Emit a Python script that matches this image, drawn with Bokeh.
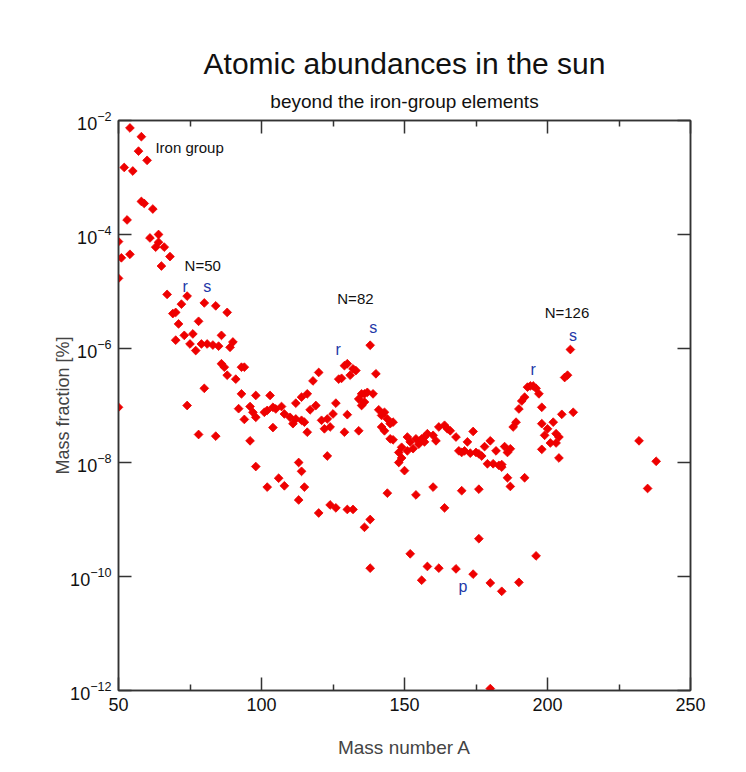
from bokeh.plotting import figure
from bokeh.models import (FixedTicker, LinearAxis, LogAxis, Label, Title, ColumnDataSource,
                          Range1d)
from bokeh.embed import file_html
from bokeh.resources import INLINE

# ---------------- data ----------------
mass_number = [
    54, 58, 57, 60, 52, 55, 58, 59, 62, 53, 50, 51, 54, 50, 61, 64, 64, 63, 66, 68,
    65, 67, 72, 74, 80, 84, 88, 69, 70, 71, 78, 70, 73, 76, 86, 75, 77, 79, 81, 83,
    85, 89, 90, 86, 87, 88, 93, 94, 91, 80, 50, 74, 78, 84, 93, 98, 103, 92, 96, 97,
    94, 98, 101, 102, 104, 105, 107, 108, 110, 111, 112, 104, 96, 98, 113, 102, 106, 108, 114, 115,
    113, 118, 120, 119, 117, 116, 121, 123, 122, 124, 125, 126, 127, 128, 129, 130, 129, 130, 132, 131,
    133, 135, 134, 136, 135, 136, 137, 139, 134, 140, 138, 141, 142, 143, 144, 145, 142, 146, 145, 143,
    149, 152, 154, 157, 158, 112, 114, 116, 114, 115, 123, 120, 124, 126, 130, 132, 138, 136, 138, 144,
    150, 154, 152, 158, 156, 146, 148, 149, 148, 151, 155, 156, 157, 153, 151, 208, 206, 207, 193, 194,
    195, 196, 197, 192, 191, 190, 198, 205, 209, 189, 188, 198, 202, 200, 199, 203, 204, 203, 201, 198,
    204, 162, 164, 165, 166, 168, 174, 160, 161, 169, 170, 171, 173, 175, 176, 172, 180, 178, 182, 185,
    187, 186, 179, 181, 183, 184, 184, 177, 186, 192, 187, 160, 170, 176, 164, 176, 196, 162, 168, 174,
    180, 184, 190, 232, 238, 235, 180,
]
mass_fraction = [
    7.4e-3, 5.2e-3, 2.9e-3, 2.0e-3, 1.5e-3, 1.3e-3, 3.8e-4, 3.5e-4, 2.8e-4, 1.8e-4,
    7.5e-5, 3.9e-5, 4.5e-5, 1.7e-5, 8.7e-5, 1.0e-4, 7.3e-5, 6.0e-5, 6.0e-5, 4.1e-5,
    2.8e-5, 8.9e-6, 6.0e-6, 8.3e-6, 6.3e-6, 5.6e-6, 4.3e-6, 4.1e-6, 4.3e-6, 2.7e-6,
    3.0e-6, 1.4e-6, 1.7e-6, 1.8e-6, 1.7e-6, 1.2e-6, 9.2e-7, 1.2e-6, 1.2e-6, 1.15e-6,
    1.1e-6, 1.05e-6, 1.3e-6, 5.4e-7, 4.7e-7, 3.4e-7, 4.7e-7, 4.7e-7, 2.9e-7, 2.0e-7,
    9.3e-8, 1.0e-7, 3.1e-8, 2.9e-8, 1.6e-7, 1.5e-7, 1.5e-7, 8.8e-8, 9.6e-8, 7.6e-8,
    5.7e-8, 6.2e-8, 7.6e-8, 8.2e-8, 9.3e-8, 8.7e-8, 9.6e-8, 7.1e-8, 6.2e-8, 4.8e-8,
    5.8e-8, 4.1e-8, 2.4e-8, 8.5e-9, 1.0e-8, 3.7e-9, 5.3e-9, 3.9e-9, 7.0e-9, 3.7e-9,
    2.2e-9, 2.7e-7, 3.8e-7, 1.0e-7, 8.4e-8, 3.4e-8, 5.5e-8, 5.8e-8, 3.9e-8, 4.2e-8,
    7.1e-8, 1.1e-7, 2.9e-7, 3.0e-7, 3.4e-8, 6.9e-8, 5.0e-7, 5.4e-7, 4.4e-7, 3.4e-7,
    4.1e-7, 1.6e-7, 1.3e-7, 1.15e-7, 1.0e-7, 1.6e-7, 1.7e-7, 1.6e-7, 3.6e-8, 3.6e-7,
    1.14e-6, 8.4e-8, 6.7e-8, 7.6e-8, 5.8e-8, 4.8e-8, 4.2e-8, 5.1e-8, 2.6e-8, 3.6e-8,
    1.85e-8, 2.3e-8, 2.6e-8, 2.8e-8, 3.2e-8, 1.1e-7, 1.4e-7, 1.6e-7, 5.5e-8, 5.1e-8,
    1.3e-8, 1.3e-9, 1.8e-9, 1.6e-9, 1.5e-9, 1.5e-9, 1.0e-9, 7.3e-10, 1.4e-10, 2.9e-9,
    7.2e-9, 2.7e-9, 2.5e-10, 1.5e-10, 8.6e-11, 2.5e-8, 1.5e-8, 1.2e-8, 1.0e-8, 2.8e-8,
    2.1e-8, 2.6e-8, 2.3e-8, 1.75e-8, 1.6e-8, 9.6e-7, 3.1e-7, 3.4e-7, 2.1e-7, 2.2e-7,
    2.2e-7, 2.0e-7, 1.6e-7, 1.4e-7, 1.2e-7, 8.7e-8, 9.3e-8, 7.0e-8, 7.6e-8, 5.1e-8,
    4.2e-8, 4.8e-8, 5.1e-8, 3.9e-8, 3.0e-8, 3.2e-8, 2.8e-8, 2.2e-8, 2.2e-8, 1.7e-8,
    1.2e-8, 4.2e-8, 4.5e-8, 3.9e-8, 3.6e-8, 2.8e-8, 3.5e-8, 3.0e-8, 2.4e-8, 1.6e-8,
    1.5e-8, 1.6e-8, 1.46e-8, 1.5e-8, 1.42e-8, 2.3e-8, 2.4e-8, 1.9e-8, 1.6e-8, 1.9e-8,
    1.74e-8, 1.5e-8, 9.5e-9, 9.5e-9, 8.9e-9, 9.2e-9, 8.3e-9, 1.3e-8, 5.4e-9, 5.4e-9,
    3.8e-9, 3.7e-9, 3.2e-9, 3.4e-9, 1.6e-9, 4.6e-10, 2.3e-10, 1.4e-10, 1.36e-10, 1.1e-10,
    7.7e-11, 5.5e-11, 7.9e-11, 2.4e-8, 1.05e-8, 3.5e-9, 1.08e-12,
]

x_ticks = [50, 100, 150, 200, 250]
x_minor_ticks = [75, 125, 175, 225]
y_ticks = [1e-12, 1e-10, 1e-8, 1e-6, 1e-4, 1e-2]

# annotation texts (black) and process markers (blue)
black_labels = ["Iron group", "N=50", "N=82", "N=126"]
black_x = [62.9, 73.1, 126.5, 199.0]
black_y = [3.4e-3, 2.9e-5, 7.6e-6, 4.3e-6]

blue_labels = ["r", "s", "r", "s", "r", "s", "p"]
blue_x = [73.3, 81.0, 126.8, 139.1, 195.0, 208.9, 170.4]
blue_y = [1.23e-5, 1.2e-5, 9.5e-7, 2.3e-6, 4.2e-7, 1.7e-6, 6.7e-11]

FONT = "Liberation Sans"
AX = "#333333"

p = figure(width=746, height=772, title=None,
           x_range=Range1d(50, 250), y_range=Range1d(1e-12, 1e-2),
           y_axis_type="log", output_backend="svg", toolbar_location=None,
           min_border_left=118, min_border_right=56, min_border_top=120,
           min_border_bottom=82)
p.background_fill_color = "white"
p.border_fill_color = "white"
p.outline_line_color = AX
p.outline_line_width = 1.5
p.xgrid.visible = False
p.ygrid.visible = False

src = ColumnDataSource(dict(x=mass_number, y=mass_fraction))
p.scatter("x", "y", source=src, marker="square", angle=0.785398, size=6.2,
          fill_color="#ee0000", line_color="#ee0000", line_width=0.8)


def style_axis(ax, labels=True):
    ax.axis_line_color = AX
    ax.axis_line_width = 1.5
    ax.major_tick_line_color = AX
    ax.major_tick_line_width = 1.5
    ax.minor_tick_line_color = AX
    ax.minor_tick_line_width = 1.5
    ax.major_tick_in = 13
    ax.major_tick_out = 0
    ax.minor_tick_in = 6
    ax.minor_tick_out = 0
    ax.major_label_text_font = FONT
    ax.major_label_text_font_size = "18px"
    ax.major_label_text_color = "#111111" if labels else None
    if not labels:
        ax.major_label_standoff = 0


xt = FixedTicker(ticks=x_ticks, minor_ticks=x_minor_ticks)
yt = FixedTicker(ticks=y_ticks, minor_ticks=[])

xa = p.xaxis[0]
xa.ticker = xt
style_axis(xa)
xa.major_label_standoff = 7
xa.axis_label = "Mass number A"
xa.axis_label_text_font = FONT
xa.axis_label_text_font_style = "normal"
xa.axis_label_text_font_size = "19px"
xa.axis_label_standoff = 23

ya = p.yaxis[0]
ya.ticker = yt
style_axis(ya)
ya.major_label_standoff = 7
ya.axis_label = "Mass fraction [%]"
ya.axis_label_text_font = FONT
ya.axis_label_text_font_style = "normal"
ya.axis_label_text_font_size = "18px"
ya.axis_label_standoff = -6

top = LinearAxis(ticker=xt)
style_axis(top, labels=False)
p.add_layout(top, "above")
right = LogAxis(ticker=yt)
style_axis(right, labels=False)
p.add_layout(right, "right")

p.add_layout(Title(text="beyond the iron-group elements", align="center",
                   text_font=FONT, text_font_size="19px", text_font_style="normal",
                   text_color="#111111", standoff=18), "above")
p.add_layout(Title(text="Atomic abundances in the sun", align="center",
                   text_font=FONT, text_font_size="30px", text_font_style="normal",
                   text_color="#111111", standoff=0), "above")

for t, x, y in zip(black_labels, black_x, black_y):
    p.add_layout(Label(x=x, y=y, text=t, text_font=FONT, text_font_size="15px",
                       text_color="#111111", text_align="left", text_baseline="middle"))
for t, x, y in zip(blue_labels, blue_x, blue_y):
    p.add_layout(Label(x=x, y=y, text=t, text_font=FONT, text_font_size="16px",
                       text_color="#2338a8", text_align="center", text_baseline="middle"))

open("out.html", "w").write(file_html(p, INLINE))
